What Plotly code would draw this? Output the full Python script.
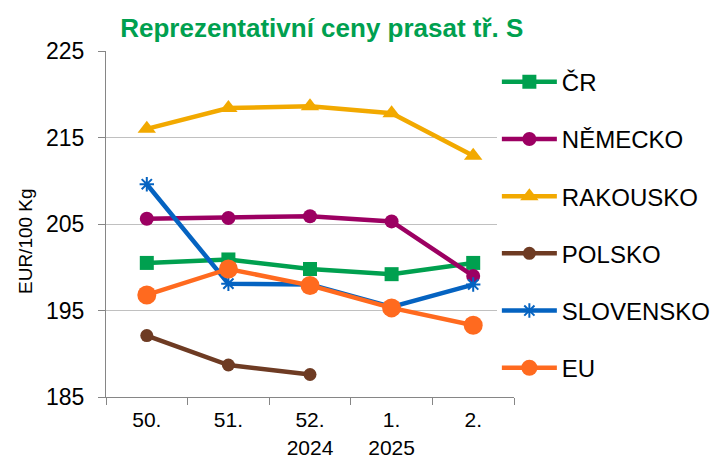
import plotly.graph_objects as go

weeks = ["50.", "51.", "52.<br>2024", "1.<br>2025", "2."]
cr = [200.5, 200.9, 199.8, 199.2, 200.5]
nemecko = [205.6, 205.7, 205.9, 205.3, 199.0]
rakousko = [216.0, 218.4, 218.6, 217.8, 212.9]
polsko = [192.1, 188.7, 187.6, None, None]
slovensko = [209.6, 198.1, 198.0, 195.4, 198.0]
eu = [196.8, 199.8, 197.9, 195.3, 193.3]

FONT = "Liberation Sans, Arial, sans-serif"

series = [
    ("ČR", cr, "#00A04F", dict(symbol="square", size=14)),
    ("NĚMECKO", nemecko, "#9C0062", dict(symbol="circle", size=14)),
    ("RAKOUSKO", rakousko, "#F2A900", dict(symbol="triangle-up", size=16)),
    ("POLSKO", polsko, "#6E3B23", dict(symbol="circle", size=13)),
    ("SLOVENSKO", slovensko, "#0563C1", dict(symbol="asterisk-open", size=12)),
    ("EU", eu, "#FF6A1F", dict(symbol="circle", size=19)),
]

fig = go.Figure()
for i, (name, vals, col, mk) in enumerate(series):
    marker = dict(color=col, **mk)
    if mk["symbol"] == "asterisk-open":
        marker["line"] = dict(color=col, width=2)
    fig.add_trace(go.Scatter(
        x=weeks, y=vals, name=name, mode="lines+markers",
        line=dict(color=col, width=4.5), marker=marker,
        legendgroup="g%d" % i, connectgaps=False,
    ))

fig.update_layout(
    width=712, height=462,
    margin=dict(l=106, r=198, t=51, b=65, autoexpand=False),
    paper_bgcolor="white", plot_bgcolor="white",
    font=dict(family=FONT, size=22, color="#000000"),
    title=dict(text="<b>Reprezentativní ceny prasat tř. S</b>",
               font=dict(family=FONT, size=26, color="#00A04F"),
               x=0.452, xref="container", xanchor="center",
               y=1 - 28 / 462, yref="container", yanchor="middle"),
    showlegend=True,
    legend=dict(x=0.958, xanchor="left", y=0.975, yanchor="top",
                bgcolor="white", font=dict(family=FONT, size=24),
                tracegroupgap=23, itemwidth=55, borderwidth=0),
    xaxis=dict(type="category", range=[-0.5, 4.5], showline=True, linecolor="#868686",
               linewidth=1, ticks="outside", tickson="boundaries", ticklen=7,
               tickcolor="#868686", showgrid=False, tickfont=dict(size=21),
               ticklabelstandoff=4),
    yaxis=dict(range=[185, 225], dtick=10, tick0=185, showline=True, linecolor="#868686",
               linewidth=1, ticks="outside", ticklen=7, tickcolor="#868686",
               showgrid=True, gridcolor="#C0C0C0", gridwidth=1, zeroline=False,
               tickfont=dict(size=23), ticklabelstandoff=9),
    annotations=[dict(text="EUR/100 Kg", textangle=-90, xref="paper", yref="paper",
                      x=(25 - 106) / 408, y=(397 - 241) / 346, xanchor="center",
                      yanchor="middle", showarrow=False, font=dict(family=FONT, size=19))],
)

fig.write_html("out.html", config={"displayModeBar": False},
               post_script="document.body.style.margin='0';")
